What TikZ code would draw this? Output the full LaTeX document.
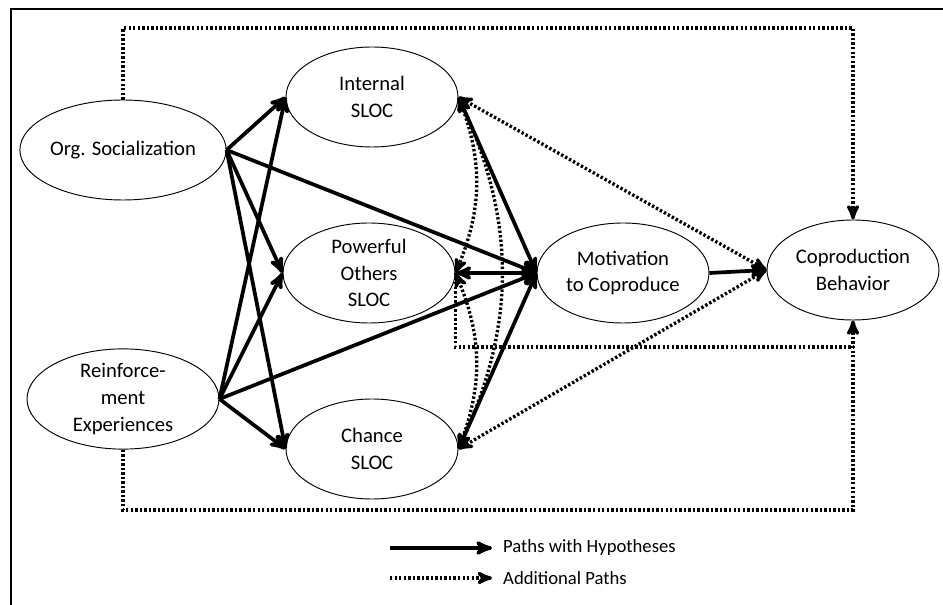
\documentclass[tikz,border=0pt]{standalone}
\usepackage{fontspec}
\setmainfont{Carlito}
\usetikzlibrary{arrows, shapes.geometric}

\begin{document}
\begin{tikzpicture}[x=0.75pt, y=-0.75pt,
				>=stealth',
				thick,
				var/.style={ellipse, draw, line width=0.7pt, minimum width=129pt, minimum height=75pt, inner sep=0pt, align=center, font=\fontsize{15.5}{20}\selectfont},
				wide/.style={var, minimum width=144pt},
				hyp/.style={->, line width=2.8pt},
				addp/.style={->, line width=2.5pt, dash pattern=on 1.8pt off 1.6pt},
				legend/.style={anchor=west, inner sep=8pt, font=\fontsize{14}{17}\selectfont},
				frame/.style={line width=2.2pt}]

				\useasboundingbox (0,0) rectangle (943,605);
				\draw[frame] (11,605) -- (11,9) -- (943,9);

				\node[wide] (org) at (123,150) {Org. Socialization};
				\node[wide] (reinf) at (123,399) {Reinforce-\\ment\\Experiences};
				\node[var] (int) at (372,97) {Internal\\SLOC};
				\node[var] (pow) at (369,273) {Powerful\\Others\\SLOC};
				\node[var] (chance) at (372,449) {Chance\\SLOC};
				\node[var] (mot) at (623,273) {Motivation\\to Coproduce};
				\node[var] (copro) at (853,270) {Coproduction\\Behavior};

				\coordinate (top) at (0,28);
				\coordinate (mid) at (0,347);
				\coordinate (bot) at (0,510);

				\draw[addp] (org.north) |- (top -| copro.north) -- (copro.north);
				\draw[addp] (reinf.south) |- (bot -| copro.south) -- (copro.south);
				\draw[addp, -] (pow.east) |- (mid -| copro.south);
				\draw[addp, <->] (int.east) -- (copro.west);
				\draw[addp, <->] (chance.east) -- (copro.west);
				\draw[addp, <->] (int.east) to[bend left=22] (pow.east);
				\draw[addp, <->] (pow.east) to[bend left=22] (chance.east);
				\draw[addp, <->] (int.east) to[bend left=25] (chance.east);

				\foreach \s in {org, reinf} {
					\draw[hyp] (\s.east) -- (int.west);
					\draw[hyp] (\s.east) -- (pow.west);
					\draw[hyp] (\s.east) -- (chance.west);
					\draw[hyp] (\s.east) -- (mot.west);
				}
				\draw[hyp, <->] (int.east) -- (mot.west);
				\draw[hyp, <->] (pow.east) -- (mot.west);
				\draw[hyp, <->] (chance.east) -- (mot.west);
				\draw[hyp] (mot.east) -- (copro.west);

				\node[legend] (lhyp) at (492,548) {Paths with Hypotheses};
				\node[legend] (ladd) at (492,578) {Additional Paths};
				\coordinate (lhs) at (390,548);
				\coordinate (las) at (390,578);
				\draw[hyp] (lhs) -- (lhyp);
				\draw[addp] (las) -- (ladd);
			\end{tikzpicture}
\end{document}
